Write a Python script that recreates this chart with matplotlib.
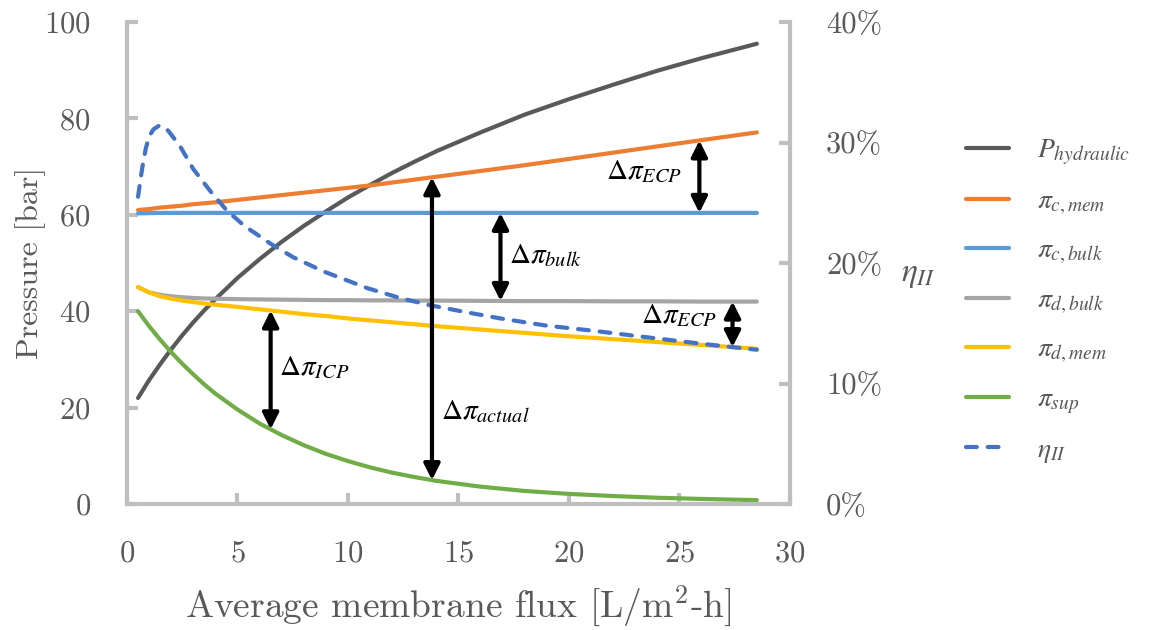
import matplotlib
matplotlib.use("Agg")
import matplotlib.pyplot as plt
from matplotlib.font_manager import FontProperties
from matplotlib.ticker import FuncFormatter
import numpy as np

plt.rcParams['font.family'] = 'cmr10'
plt.rcParams['mathtext.fontset'] = 'cm'
plt.rcParams['axes.formatter.use_mathtext'] = True

# average membrane flux [L/m2-h]
flux = [0.5, 1, 1.5, 2, 2.5, 3, 3.5, 4, 5, 6, 7, 8, 9, 10, 11, 12, 13, 14,
        16, 18, 20, 22, 24, 26, 28.5]

# pressures [bar]
p_hydraulic = [22.0, 25.7, 29.0, 32.1, 35.0, 37.7, 40.2, 42.5, 46.9, 50.8,
               54.4, 57.7, 60.7, 63.6, 66.2, 68.7, 71.0, 73.2, 77.1, 80.8,
               84.0, 87.0, 89.9, 92.5, 95.5]
pi_c_mem = [61.0, 61.2, 61.5, 61.7, 61.9, 62.2, 62.4, 62.6, 63.1, 63.6,
            64.1, 64.6, 65.1, 65.6, 66.1, 66.7, 67.3, 67.9, 69.1, 70.3,
            71.6, 72.9, 74.2, 75.5, 77.1]
pi_c_bulk = [60.3, 60.35, 60.4, 60.4, 60.4, 60.4, 60.4, 60.4, 60.4, 60.4,
             60.4, 60.4, 60.4, 60.4, 60.4, 60.4, 60.4, 60.4, 60.4, 60.4,
             60.4, 60.4, 60.4, 60.4, 60.4]
pi_d_bulk = [45.0, 43.9, 43.4, 43.1, 42.9, 42.75, 42.65, 42.6, 42.5, 42.45,
             42.4, 42.35, 42.3, 42.3, 42.25, 42.25, 42.2, 42.2, 42.15, 42.1,
             42.1, 42.05, 42.05, 42.0, 42.0]
pi_d_mem = [45.0, 43.9, 43.1, 42.6, 42.2, 41.9, 41.6, 41.35, 40.9, 40.4,
            39.9, 39.4, 39.0, 38.5, 38.1, 37.7, 37.3, 36.9, 36.2, 35.5,
            34.8, 34.2, 33.6, 33.0, 32.2]
pi_sup = [40.0, 36.9, 34.1, 31.5, 29.1, 26.9, 24.8, 22.9, 19.6, 16.7,
          14.3, 12.2, 10.4, 8.9, 7.6, 6.5, 5.6, 4.8, 3.6, 2.7,
          2.1, 1.65, 1.3, 1.05, 0.8]

# second-law efficiency
eta_flux = [0.5, 0.6, 0.7, 0.85, 1.0, 1.2, 1.45, 1.7, 1.9, 2.4, 3.0, 3.8,
            4.5, 5.3, 6.5, 7.5, 8.9, 10.9, 12.35, 13.7, 15.4, 16.9, 19.0,
            21.0, 23.7, 26.0, 28.5]
eta_ii = [0.255, 0.268, 0.280, 0.295, 0.305, 0.311, 0.314, 0.313, 0.309,
          0.297, 0.278, 0.259, 0.244, 0.231, 0.216, 0.205, 0.193, 0.179,
          0.171, 0.165, 0.159, 0.154, 0.148, 0.144, 0.138, 0.133, 0.128]

series = [
    (p_hydraulic, '#595959', r'$P_{hydraulic}$'),
    (pi_c_mem, '#ED7D31', r'$\pi_{c,mem}$'),
    (pi_c_bulk, '#5B9BD5', r'$\pi_{c,bulk}$'),
    (pi_d_bulk, '#A5A5A5', r'$\pi_{d,bulk}$'),
    (pi_d_mem, '#FFC000', r'$\pi_{d,mem}$'),
    (pi_sup, '#70AD47', r'$\pi_{sup}$'),
]

spine_color = '#BFBFBF'
text_color = '#595959'

fig = plt.figure(figsize=(11.65, 6.3), dpi=100)
ax = fig.add_axes([0.109, 0.2, 0.5691, 0.765])
ax2 = ax.twinx()

handles = []
for values, color, label in series:
    line, = ax.plot(flux, values, color=color, lw=3, label=label,
                    solid_capstyle='round')
    handles.append(line)

eta_line, = ax2.plot(eta_flux, eta_ii, color='#4472C4', lw=3, ls=(0, (2.6, 2.6)),
                     dash_capstyle='round', label=r'$\eta_{II}$')
handles.append(eta_line)

ax.set_xlim(0, 30)
ax.set_ylim(0, 100)
ax2.set_ylim(0, 0.4)
ax.set_xticks(range(0, 31, 5))
ax.set_yticks(range(0, 101, 20))
ax2.set_yticks([0, 0.1, 0.2, 0.3, 0.4])
ax2.yaxis.set_major_formatter(FuncFormatter(lambda v, p: f'{v * 100:.0f}%'))

for a in (ax, ax2):
    for side in ('top', 'left', 'right', 'bottom'):
        a.spines[side].set_visible(False)
    a.tick_params(direction='in', length=8, width=3, color=spine_color,
                  labelsize=22, labelcolor=text_color, pad=26)
for side in ('left', 'bottom'):
    ax.spines[side].set_visible(True)
    ax.spines[side].set_color(spine_color)
    ax.spines[side].set_linewidth(3)
ax2.spines['right'].set_visible(True)
ax2.spines['right'].set_color(spine_color)
ax2.spines['right'].set_linewidth(3)

ax.set_ylabel('Pressure [bar]', fontsize=23, color=text_color)
ax.yaxis.set_label_coords(-0.122, 0.5)
ax.set_xlabel(r'Average membrane flux [L/m$^2$-h]', fontsize=27, color=text_color)
ax.xaxis.set_label_coords(0.5, -0.165)

fig.text(0.773, 0.563, r'$\eta_{II}$', fontproperties=FontProperties(
    size=24, math_fontfamily='stix'), color=text_color, ha='left', va='center')


# double-headed arrows between curves, drawn above the efficiency line
def gap_arrow(x, lower, upper):
    y0 = np.interp(x, flux, lower)
    y1 = np.interp(x, flux, upper)
    ax2.annotate('', xy=(x, y1), xycoords=ax.transData,
                 xytext=(x, y0), textcoords=ax.transData,
                 arrowprops=dict(arrowstyle='<|-|>', color='black', lw=3,
                                 mutation_scale=24, shrinkA=0, shrinkB=0))


gap_arrow(25.9, pi_c_bulk, pi_c_mem)
gap_arrow(16.9, pi_d_bulk, pi_c_bulk)
gap_arrow(27.4, pi_d_mem, pi_d_bulk)
gap_arrow(6.5, pi_sup, pi_d_mem)
gap_arrow(13.8, pi_sup, pi_c_mem)

labels = [
    (25.1, 69.0, r'$\Delta\pi_{ECP}$', 'right'),
    (17.3, 51.6, r'$\Delta\pi_{bulk}$', 'left'),
    (26.7, 39.1, r'$\Delta\pi_{ECP}$', 'right'),
    (6.9, 28.3, r'$\Delta\pi_{ICP}$', 'left'),
    (14.2, 19.1, r'$\Delta\pi_{actual}$', 'left'),
]
for x, y, s, ha in labels:
    ax2.text(x, y, s, transform=ax.transData, ha=ha, va='center',
             fontproperties=FontProperties(size=21, math_fontfamily='stix'),
             color='black')

fig.legend(handles=handles, loc='upper left', bbox_to_anchor=(0.817, 0.804),
           frameon=False, prop=FontProperties(size=20, math_fontfamily='stix'),
           borderpad=0, handlelength=1.55, handletextpad=1.0,
           labelspacing=0.75, labelcolor=text_color)

fig.savefig('out.png', dpi=100)
